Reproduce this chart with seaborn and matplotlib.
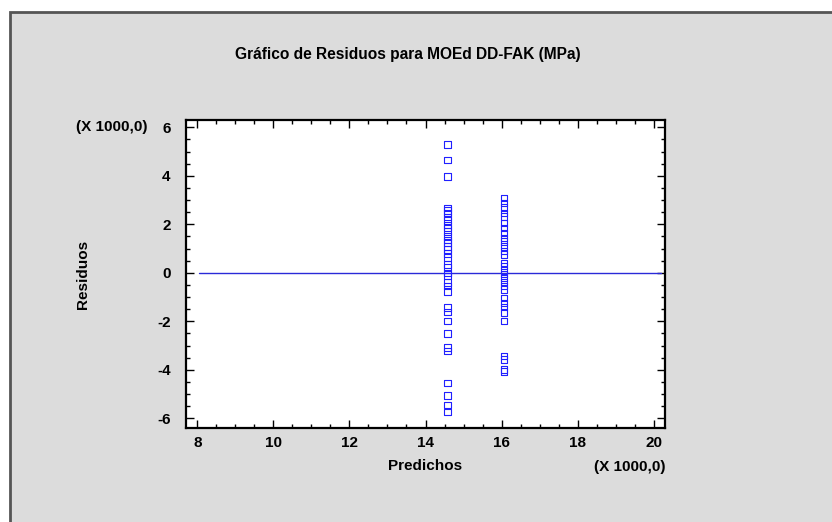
import numpy as np
import pandas as pd
import seaborn as sns
import matplotlib.pyplot as plt
from matplotlib.patches import Rectangle
from matplotlib.ticker import MultipleLocator

# predicted values (x 1000 MPa) for the two groups
predichos_grupos = [14.58, 16.07]

# residuals (x 1000 MPa)
residuos_a = [5.3, 4.66, 3.98, 2.67, 2.57, 2.46, 2.3, 2.16, 1.98, 1.85, 1.71,
              1.5, 1.36, 1.24, 1.09, 0.96, 0.8, 0.64, 0.34, 0.21, 0.0, -0.14,
              -0.41, -0.55, -0.78, -1.43, -1.62, -1.98, -2.5, -3.08, -3.22,
              -4.55, -5.07, -5.45, -5.75]
residuos_b = [3.08, 2.88, 2.7, 2.47, 2.33, 2.05, 1.85, 1.64, 1.43, 1.28, 1.09,
              0.89, 0.76, 0.41, 0.27, 0.1, -0.04, -0.21, -0.38, -0.55, -0.69,
              -1.03, -1.24, -1.41, -1.64, -1.98, -3.43, -3.57, -3.98, -4.07]

df = pd.DataFrame({
    'Predichos': [predichos_grupos[0]] * len(residuos_a) + [predichos_grupos[1]] * len(residuos_b),
    'Residuos': residuos_a + residuos_b,
})

sns.set_style('white')
plt.rcParams['font.family'] = ['Liberation Sans', 'DejaVu Sans']
plt.rcParams['font.weight'] = 'bold'
plt.rcParams['text.color'] = 'black'
plt.rcParams['axes.labelcolor'] = 'black'
plt.rcParams['xtick.color'] = 'black'
plt.rcParams['ytick.color'] = 'black'
plt.rcParams['axes.unicode_minus'] = False

fig = plt.figure(figsize=(8.32, 5.22), dpi=100)
fig.patch.set_facecolor('white')
# grey panel with dark top/left edge
panel = Rectangle((10 / 832, -0.05), 1.2, 1 - 12 / 522 + 0.05,
                  transform=fig.transFigure, facecolor='#dcdcdc',
                  edgecolor='#555555', linewidth=2, zorder=-10)
fig.patches.append(panel)

ax = fig.add_axes([186 / 832, 1 - 428 / 522, (665 - 186) / 832, (428 - 120) / 522])
ax.set_zorder(5)
ax.set_facecolor('white')

ax.plot([8.05, 20.2], [0, 0], color='#2a2ad8', linewidth=1, zorder=1)
sns.scatterplot(data=df, x='Predichos', y='Residuos', ax=ax, marker='s', s=22,
                facecolor='none', edgecolor='#2020ff', linewidth=0.8, zorder=2)

ax.set_xlim(7.7, 20.3)
ax.set_ylim(-6.4, 6.3)
ax.xaxis.set_major_locator(MultipleLocator(2))
ax.xaxis.set_minor_locator(MultipleLocator(0.5))
ax.yaxis.set_major_locator(MultipleLocator(2))
ax.yaxis.set_minor_locator(MultipleLocator(0.5))
ax.tick_params(which='both', direction='in', top=True, right=True, bottom=True, left=True,
               width=1, color='black', labelsize=11)
ax.tick_params(axis='x', pad=6)
ax.tick_params(axis='y', pad=11)
ax.tick_params(which='major', length=6)
ax.tick_params(which='minor', length=3)
for lab in ax.get_xticklabels() + ax.get_yticklabels():
    lab.set_fontweight('bold')
for sp in ax.spines.values():
    sp.set_visible(True)
    sp.set_color('black')
    sp.set_linewidth(1.6)

ax.set_xlabel('Predichos', fontsize=11, fontweight='bold', labelpad=6)
ax.set_ylabel('Residuos', fontsize=11, fontweight='bold', labelpad=48)

fig.text(408 / 832, 1 - 55 / 522, 'Gráfico de Residuos para MOEd DD-FAK (MPa)',
         ha='center', va='center', fontsize=11.2, fontweight='bold')
fig.text(148 / 832, 1 - 127 / 522, '(X 1000,0)', ha='right', va='center',
         fontsize=11, fontweight='bold')
fig.text(630 / 832, 1 - 467 / 522, '(X 1000,0)', ha='center', va='center',
         fontsize=11, fontweight='bold')

fig.savefig('out.png', dpi=100)
